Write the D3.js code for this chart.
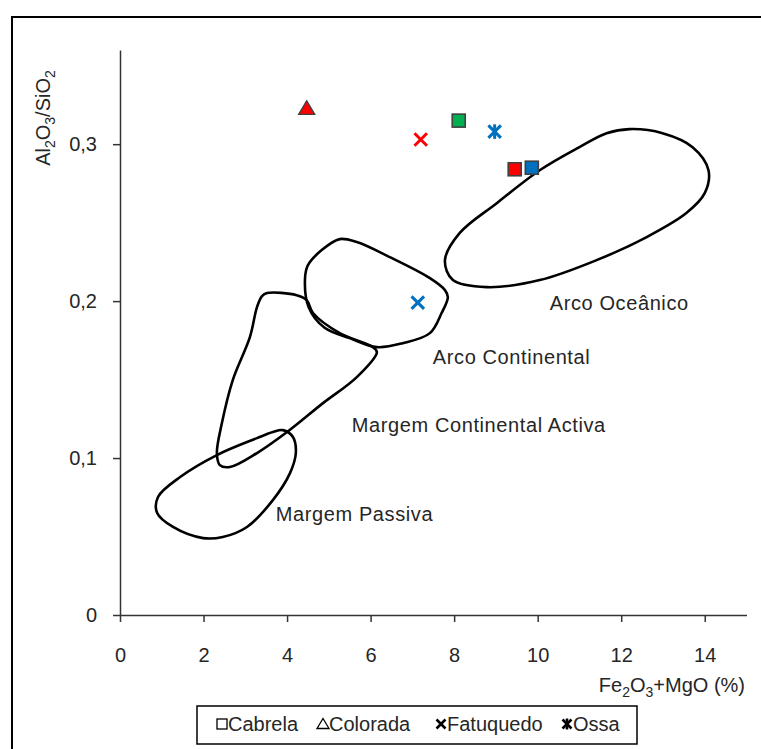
<!DOCTYPE html>
<html>
<head>
<meta charset="utf-8">
<script src="https://cdn.jsdelivr.net/npm/d3@7"></script>
<style>
  body { margin: 0; background: #fff; }
  svg { display: block; font-family: "Liberation Sans", Arial, sans-serif; }
</style>
</head>
<body>
<svg id="chart" width="761" height="749"></svg>
<script>
// axis ticks
const xTicks = [0, 2, 4, 6, 8, 10, 12, 14];
const yTicks = [0, 0.1, 0.2, 0.3];

// legend / series
const seriesNames = ["Cabrela", "Colorada", "Fatuquedo", "Ossa"];

// samples: x = Fe2O3+MgO, y = Al2O3/SiO2, group = sample set (colour)
const cabrelaX = [9.45, 9.86, 8.11];
const cabrelaY = [0.284, 0.285, 0.315];
const cabrelaGroup = ["A", "B", "C"];

const coloradaX = [4.47];
const coloradaY = [0.323];
const coloradaGroup = ["A"];

const fatuquedoX = [7.20, 7.13];
const fatuquedoY = [0.303, 0.199];
const fatuquedoGroup = ["A", "B"];

const ossaX = [8.97];
const ossaY = [0.308];
const ossaGroup = ["B"];

// tectonic fields (outline points)
const arcoOceanico = [
  [12.20, 0.3096], [12.99, 0.3070], [13.71, 0.2981], [14.09, 0.2834], [14.00, 0.2688],
  [13.56, 0.2561], [12.61, 0.2408], [11.41, 0.2261], [10.05, 0.2134], [8.78, 0.2089],
  [7.97, 0.2134], [7.78, 0.2261], [8.13, 0.2433], [9.02, 0.2624], [10.05, 0.2834],
  [11.00, 0.2981], [11.65, 0.3070]
];
const arcoContinental = [
  [5.26, 0.2395], [5.67, 0.2376], [6.46, 0.2280], [7.42, 0.2146], [7.78, 0.2070],
  [7.85, 0.2025], [7.70, 0.1924], [7.42, 0.1796], [6.77, 0.1732], [6.15, 0.1707],
  [5.50, 0.1764], [4.90, 0.1830], [4.52, 0.1960], [4.43, 0.2146], [4.50, 0.2229],
  [4.83, 0.2325]
];
const margemActiva = [
  [3.52, 0.2051], [4.23, 0.2038], [4.47, 0.2006], [4.62, 0.1924], [5.26, 0.1796],
  [6.05, 0.1707], [6.15, 0.1675], [5.67, 0.1516], [4.86, 0.1350], [4.00, 0.1166],
  [3.28, 0.1032], [2.63, 0.0943], [2.39, 0.0955], [2.32, 0.1032], [2.44, 0.1223],
  [2.70, 0.1497], [3.11, 0.1771], [3.28, 0.1962], [3.40, 0.2032]
];
const margemPassiva = [
  [3.90, 0.1178], [4.14, 0.1134], [4.21, 0.1032], [4.07, 0.0904], [3.66, 0.0732],
  [3.04, 0.0561], [2.46, 0.0497], [1.99, 0.0490], [1.27, 0.0561], [0.89, 0.0650],
  [0.91, 0.0752], [1.44, 0.0879], [2.32, 0.1019], [3.28, 0.1127], [3.66, 0.1166]
];

const fieldNames = ["Arco Oceânico", "Arco Continental", "Margem Continental Activa", "Margem Passiva"];
const fieldLabelX = [10.29, 7.49, 5.55, 3.73];
const fieldLabelY = [0.1944, 0.160, 0.1166, 0.0599];

const groupColors = { A: "#ff0000", B: "#0070c0", C: "#00b050" };

const svg = d3.select("#chart");
const textColor = "#262626";

// outer frame (cut off on the right and bottom)
svg.append("rect")
  .attr("x", 12).attr("y", 17)
  .attr("width", 770).attr("height", 760)
  .attr("fill", "none")
  .attr("stroke", "#000")
  .attr("stroke-width", 2);

const x = d3.scaleLinear().domain([0, 15]).range([120, 746.5]);
const y = d3.scaleLinear().domain([0, 0.36]).range([615, 50]);

// axes
const xAxis = svg.append("g")
  .attr("transform", `translate(0,${y(0)})`)
  .call(d3.axisBottom(x).tickValues(xTicks).tickSize(7).tickPadding(26).tickSizeOuter(0));
const yAxis = svg.append("g")
  .attr("transform", `translate(${x(0)},0)`)
  .call(d3.axisLeft(y).tickValues(yTicks).tickSize(7).tickPadding(16).tickSizeOuter(0)
    .tickFormat(d => d === 0 ? "0" : d3.format(".1f")(d).replace(".", ",")));

[xAxis, yAxis].forEach(g => {
  g.select(".domain").attr("stroke", "#333").attr("stroke-width", 1.5);
  g.selectAll(".tick line").attr("stroke", "#333").attr("stroke-width", 1.5);
  g.selectAll("text")
    .attr("font-size", "20px")
    .attr("fill", textColor)
    .style("font-family", "'Liberation Sans', Arial, sans-serif");
});

// axis titles
const xTitle = svg.append("text")
  .attr("x", 745).attr("y", 692)
  .attr("text-anchor", "end")
  .attr("font-size", "20px")
  .attr("fill", textColor);
xTitle.append("tspan").text("Fe");
xTitle.append("tspan").attr("font-size", "14px").attr("dy", 5).text("2");
xTitle.append("tspan").attr("dy", -5).text("O");
xTitle.append("tspan").attr("font-size", "14px").attr("dy", 5).text("3");
xTitle.append("tspan").attr("dy", -5).text("+MgO (%)");

const yTitle = svg.append("text")
  .attr("transform", "translate(50,118) rotate(-90)")
  .attr("text-anchor", "middle")
  .attr("font-size", "20px")
  .attr("fill", textColor);
yTitle.append("tspan").text("Al");
yTitle.append("tspan").attr("font-size", "14px").attr("dy", 5).text("2");
yTitle.append("tspan").attr("dy", -5).text("O");
yTitle.append("tspan").attr("font-size", "14px").attr("dy", 5).text("3");
yTitle.append("tspan").attr("dy", -5).text("/SiO");
yTitle.append("tspan").attr("font-size", "14px").attr("dy", 5).text("2");

// fields
const fieldLine = d3.line()
  .x(d => x(d[0]))
  .y(d => y(d[1]))
  .curve(d3.curveCatmullRomClosed.alpha(0.5));

[arcoOceanico, arcoContinental, margemActiva, margemPassiva].forEach(pts => {
  svg.append("path")
    .attr("d", fieldLine(pts))
    .attr("fill", "none")
    .attr("stroke", "#000")
    .attr("stroke-width", 2.6);
});

svg.selectAll(".field-label")
  .data(fieldNames)
  .enter()
  .append("text")
  .attr("class", "field-label")
  .attr("x", (d, i) => x(fieldLabelX[i]))
  .attr("y", (d, i) => y(fieldLabelY[i]))
  .attr("font-size", "20px")
  .attr("letter-spacing", "0.6px")
  .attr("fill", textColor)
  .text(d => d);

// marker shapes
function drawMarker(g, shape, cx, cy, color, size, legend) {
  const s = size / 2;
  const stroke = legend ? "#000" : "#404040";
  if (shape === "square") {
    g.append("rect")
      .attr("x", cx - s).attr("y", cy - s)
      .attr("width", size).attr("height", size)
      .attr("fill", legend ? "none" : color)
      .attr("stroke", stroke)
      .attr("stroke-width", legend ? 1.3 : 1.6);
  } else if (shape === "triangle") {
    const h = size * 0.9;
    g.append("path")
      .attr("d", `M${cx},${cy - h / 2 - 1}L${cx + s + 1},${cy + h / 2}L${cx - s - 1},${cy + h / 2}Z`)
      .attr("fill", legend ? "none" : color)
      .attr("stroke", stroke)
      .attr("stroke-width", legend ? 1.3 : 1.4);
  } else {
    const col = legend ? "#000" : color;
    const w = legend ? 2.6 : 3;
    g.append("path")
      .attr("d", `M${cx - s},${cy - s}L${cx + s},${cy + s}M${cx + s},${cy - s}L${cx - s},${cy + s}`)
      .attr("stroke", col).attr("stroke-width", w);
    if (shape === "star") {
      g.append("path")
        .attr("d", `M${cx},${cy - s - 1}L${cx},${cy + s + 1}`)
        .attr("stroke", col).attr("stroke-width", w);
    }
  }
}

const seriesShapes = ["square", "triangle", "cross", "star"];
const seriesX = [cabrelaX, coloradaX, fatuquedoX, ossaX];
const seriesY = [cabrelaY, coloradaY, fatuquedoY, ossaY];
const seriesGroup = [cabrelaGroup, coloradaGroup, fatuquedoGroup, ossaGroup];

const points = svg.append("g");
seriesNames.forEach((name, si) => {
  seriesX[si].forEach((xv, i) => {
    const size = seriesShapes[si] === "square" ? 13 : (seriesShapes[si] === "triangle" ? 14 : 12.5);
    drawMarker(points, seriesShapes[si], x(xv), y(seriesY[si][i]), groupColors[seriesGroup[si][i]], size, false);
  });
});

// legend
const legend = svg.append("g");
legend.append("rect")
  .attr("x", 197).attr("y", 706)
  .attr("width", 440).attr("height", 38)
  .attr("fill", "#fff")
  .attr("stroke", "#000")
  .attr("stroke-width", 1.5);

const legendSymX = [222, 323, 441, 567];
seriesNames.forEach((name, i) => {
  drawMarker(legend, seriesShapes[i], legendSymX[i], 724, "#000", i < 2 ? 10 : 9, true);
  legend.append("text")
    .attr("x", legendSymX[i] + 6)
    .attr("y", 731)
    .attr("font-size", "20px")
    .attr("fill", textColor)
    .text(name);
});
</script>
</body>
</html>
